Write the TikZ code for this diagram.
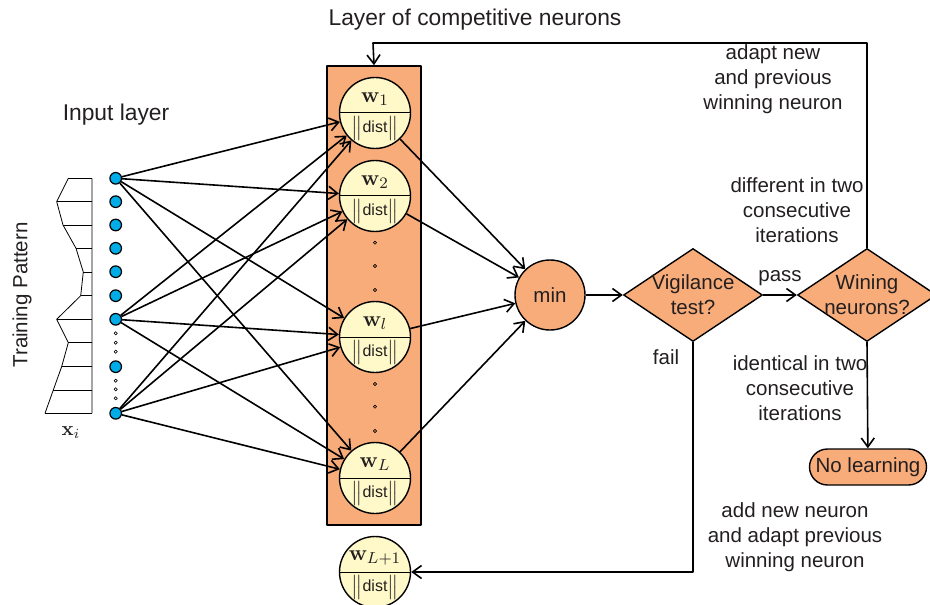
\documentclass[tikz,border=0pt]{standalone}
\usepackage[no-math]{fontspec}
\setmainfont{Liberation Sans}
\usetikzlibrary{arrows.meta,shapes.geometric}
\definecolor{orng}{RGB}{248,172,122}
\definecolor{lyel}{RGB}{255,249,201}
\definecolor{cyn}{RGB}{0,172,232}
\definecolor{txt}{RGB}{35,31,32}
\tikzset{
  neuron/.style={circle,draw,fill=lyel,minimum size=35.5pt,inner sep=0pt,line width=0.7pt},
  inp/.style={circle,draw,fill=cyn,minimum size=5.8pt,inner sep=0pt,line width=0.6pt},
  tdot/.style={circle,draw,minimum size=1.6pt,inner sep=0pt,line width=0.3pt},
  decision/.style={diamond,draw,fill=orng,minimum width=69.5pt,minimum height=46.5pt,inner sep=0pt,line width=0.7pt},
  head/.style={font=\fontsize{11.4}{13.5}\selectfont},
  note/.style={align=center}
}
\begin{document}
\begin{tikzpicture}[x=0.5pt,y=-0.5pt,>={Straight Barb[length=4.5pt,width=6.5pt]},line join=round,
  font=\fontsize{10.25}{12.5}\selectfont,text=txt,line width=0.8pt]
\useasboundingbox (0,0) rectangle (930,604);
\clip (0,0) rectangle (930,604);
% training pattern
\foreach \x/\y in {68.3/178.3,56.7/201.7,63/225,76/248.3,83.3/272,80.7/295.7,56.7/319.3,68.3/342.7,61.7/366.5,53.3/390,45/413.3}
  {\draw[line width=0.4pt] (\x,\y)--(92,\y);}
\draw[line width=0.4pt] (92,178.3)--(92,413.3)
  plot coordinates {(68.3,178.3) (56.7,201.7) (63,225) (76,248.3) (83.3,272) (80.7,295.7) (56.7,319.3) (68.3,342.7) (61.7,366.5) (53.3,390) (45,413.3)};
\node[rotate=90] (tp) at (22,295) {Training Pattern};
\node (xi) at (71,433) {$\mathbf{x}_i$};
\node[head] (inlbl) at (116,115) {Input layer};
\node[head] (title) at (475,20) {Layer of competitive neurons};
% input layer
\foreach \n/\y in {1/178.3,2/201.7,3/225,4/248.3,5/271.7,6/295.7,7/319.3,8/366.7,9/413.3}
  {\node[inp] (x\n) at (115.7,\y) {};}
\foreach \y [count=\i] in {333.3,342.7,351.7,380.7,389.3,398.3}
  {\node[tdot] (d\i) at (115.7,\y) {};}
% competitive layer
\node[draw,fill=orng,minimum width=47pt,minimum height=229.5pt,inner sep=0pt] (layer) at (374,295.5) {};
\foreach \n/\y/\s in {w1/113/1,w2/196/2,wl/337/l,wL/478/L,wN/572/L+1}
  {\node[neuron] (\n) at (375,\y) {};
   \draw[line width=0.5pt] (\n.west)--(\n.east);
   \path (\n) ++(0,-14) node[inner sep=0pt] (\n w) {\fontsize{11}{13}\selectfont$\mathbf{w}_{\s}$}
         ++(0,29) node[inner sep=0pt,font=\footnotesize] (\n d) {$\big\|$dist$\big\|$};}
\foreach \y [count=\i] in {242.7,266,290,384,406.7,431}
  {\node[tdot] (c\i) at (375,\y) {};}
\foreach \s in {1,7,9}
  {\foreach \t in {w1,w2,wl,wL} \draw[->] (x\s) -- (\t);}
% decisions
\node[circle,draw,fill=orng,minimum size=35pt,inner sep=0pt,line width=0.7pt] (min) at (550,295) {min};
\foreach \t in {w1,w2,wl,wL} \draw[->] (\t) -- (min);
\node[decision,label={[note]center:Vigilance\\test?}] (vig) at (693,295) {};
\node[decision,label={[note]center:Wining\\neurons?}] (win) at (867,295) {};
\node[draw,fill=orng,rounded corners=9pt,minimum width=58.5pt,minimum height=18pt,inner sep=0pt,line width=0.7pt] (nol) at (868,467) {No learning};
\coordinate (top) at (373,43);
\draw[->] (min) -- (vig);
\draw[->] (vig) -- node[above=1pt] (pass) {pass} (win);
\draw[->] (win.south) -- (nol);
\draw[->] (win.north) |- (top) -- (layer.north);
\draw[->] (vig.south) |- (wN.east);
\node (fail) at (666,357) {fail};
\node[note] (adapt) at (773,79) {adapt new\\and previous\\winning neuron};
\node[note] (diff) at (797,210) {different in two\\consecutive\\iterations};
\node[note] (ident) at (800,388) {identical in two\\consecutive\\iterations};
\node[note] (addnew) at (795,537) {add new neuron\\and adapt previous\\winning neuron};
\end{tikzpicture}
\end{document}
